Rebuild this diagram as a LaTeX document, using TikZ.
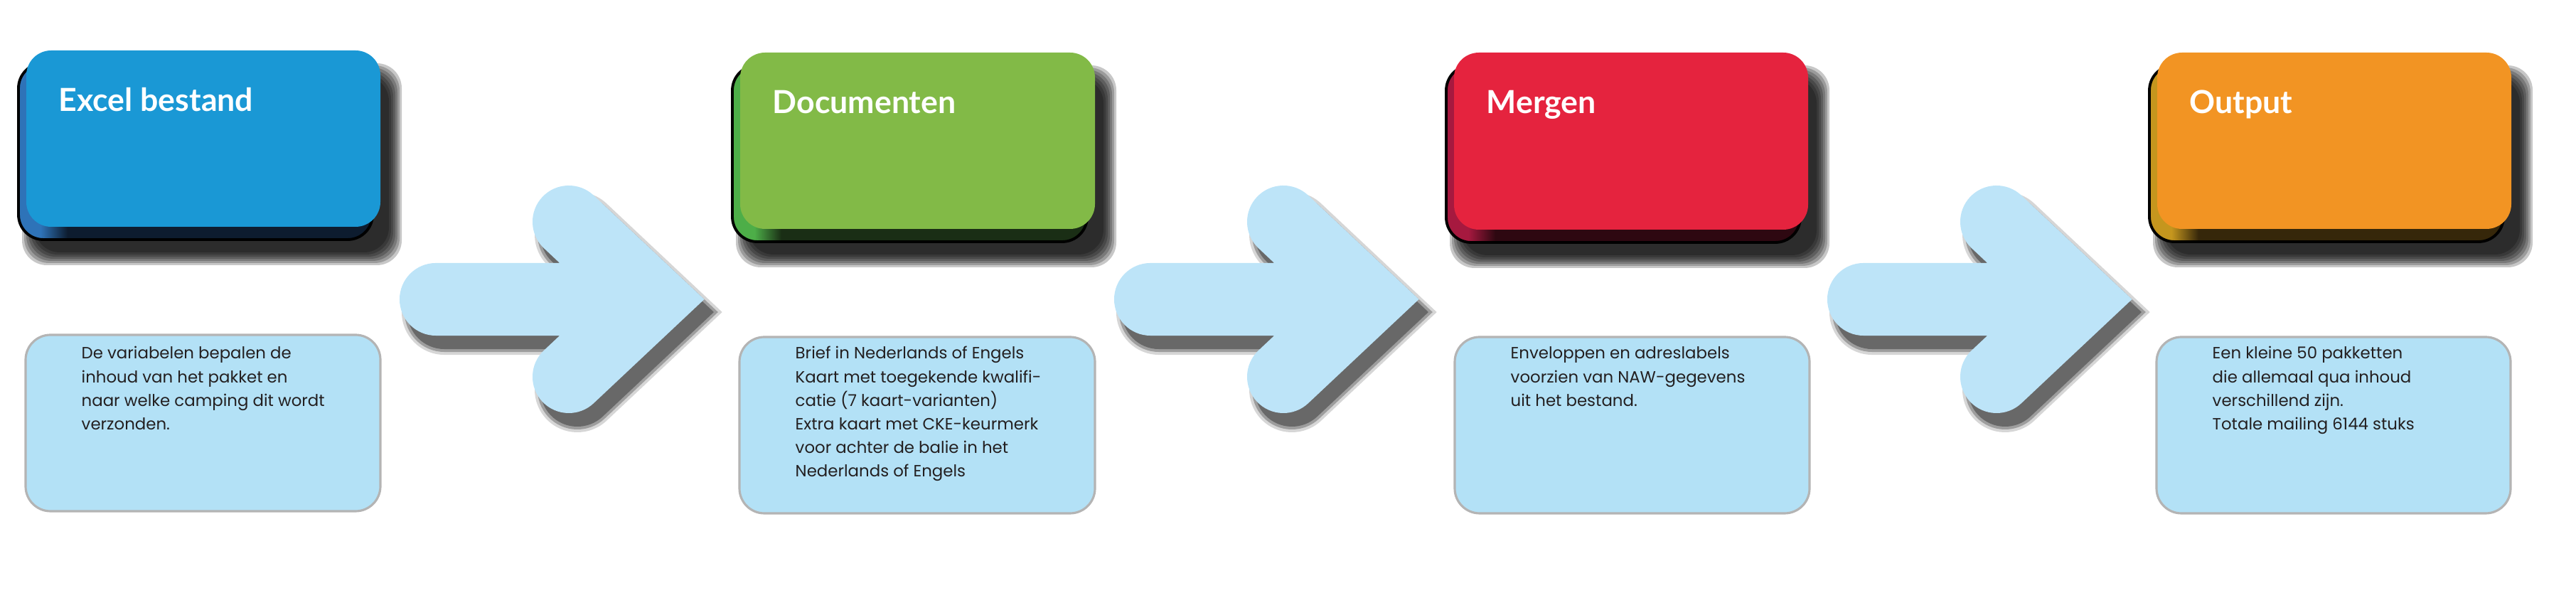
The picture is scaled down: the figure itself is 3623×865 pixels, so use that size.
\documentclass[tikz,border=0pt]{standalone}
\usepackage{fontspec}
\setmainfont{Lato}
\newfontfamily\uitlegfont{Poppins}
\usetikzlibrary{arrows.meta,positioning,backgrounds}

\definecolor{blauw}{HTML}{1A98D5}
\definecolor{blauwzij}{HTML}{2E73B8}
\definecolor{blauwbodem}{HTML}{0D1C2F}
\definecolor{groen}{HTML}{82BA47}
\definecolor{groenzij}{HTML}{4DAE48}
\definecolor{groenbodem}{HTML}{1A2E15}
\definecolor{rood}{HTML}{E5233E}
\definecolor{roodzij}{HTML}{A6193F}
\definecolor{roodbodem}{HTML}{2E0811}
\definecolor{oranje}{HTML}{F29423}
\definecolor{oranjezij}{HTML}{C5961E}
\definecolor{oranjebodem}{HTML}{36270A}
\definecolor{pijlblauw}{HTML}{BDE4F8}
\definecolor{vakblauw}{HTML}{B3E1F6}
\definecolor{randgrijs}{HTML}{B4B4B4}
\definecolor{tekstzwart}{HTML}{231F20}

\tikzset{
  kop/.style={anchor=base west, inner sep=0pt, text=white, font=\fontsize{12.7}{15}\selectfont\bfseries},
  uitleg/.style={anchor=base west, inner sep=0pt, text=tekstzwart, font=\uitlegfont\fontsize{6.5}{9.4}\selectfont},
  vak/.style={fill=vakblauw, draw=randgrijs, line width=0.9pt, rounded corners=0.35cm},
  pijl/.style={draw=pijlblauw, line width=1.02cm, line cap=round, line join=miter},
}

\begin{document}
\begin{tikzpicture}[x=0.01cm, y=-0.01cm]
  \useasboundingbox (0,0) rectangle (3623,865);

  % Pijlen tussen de stappen
  \foreach \dx in {0,1005,2008} {
    \begin{scope}[shift={(\dx,0)}]
      \begin{scope}[shift={(12,18)}]
        \foreach \lw/\op in {1.20cm/0.2, 1.12cm/0.35, 1.04cm/0.5}
          \draw[black!80, opacity=\op, line width=\lw, line cap=round, line join=miter]
            (613,421) -- (880,421) (800,312) -- (916,421) -- (800,530);
      \end{scope}
      \draw[pijl] (613,421) -- (880,421) (800,312) -- (916,421) -- (800,530);
    \end{scope}
  }

  % Stappen: schaduw, zijkant en bovenvlak
  \foreach \x/\y/\w/\h/\kleur/\zij/\bodem/\naam/\titel in {
      37/71/498/248/blauw/blauwzij/blauwbodem/excel/Excel bestand,
      1041/74/499/248/groen/groenzij/groenbodem/documenten/Documenten,
      2045/74/498/249/rood/roodzij/roodbodem/mergen/Mergen,
      3034/74/498/248/oranje/oranjezij/oranjebodem/output/Output} {
    \foreach \r in {18,15,12,9,6,3,0}
      \fill[black, opacity=0.22, rounded corners=0.35cm] (\x+12-\r,\y+36-\r) rectangle (\x+\w+12+\r,\y+\h+36+\r);
    \begin{scope}
      \clip[rounded corners=0.35cm] (\x-11,\y+18) rectangle ++(\w,\h);
      \fill[\bodem] (\x-11,\y+18) rectangle ++(\w,\h);
      \fill[\zij] (\x-13,\y) rectangle (\x+20,\y+\h+20);
      \shade[left color=\zij, right color=\bodem] (\x+20,\y) rectangle (\x+58,\y+\h+20);
    \end{scope}
    \draw[black, line width=1.1pt, rounded corners=0.35cm] (\x-11,\y+18) rectangle ++(\w,\h);
    \fill[\kleur, rounded corners=0.35cm] (\x,\y) rectangle ++(\w,\h);
    \node[kop] (\naam) at (\x+45,\y+86) {\titel};
  }

  % Toelichting onder elke stap
  \foreach \x/\y/\w/\tx/\naam/\tekst in {
      36/471/499/114/uitleg-excel/{De variabelen bepalen de\\inhoud van het pakket en\\naar welke camping dit wordt\\verzonden.},
      1040/474/500/1118/uitleg-documenten/{Brief in Nederlands of Engels\\Kaart met toegekende kwalifi-\\catie (7 kaart-varianten)\\Extra kaart met CKE-keurmerk\\voor achter de balie in het\\Nederlands of Engels},
      2046/474/499/2124/uitleg-mergen/{Enveloppen en adreslabels\\voorzien van NAW-gegevens\\uit het bestand.},
      3033/474/498/3111/uitleg-output/{Een kleine 50 pakketten\\die allemaal qua inhoud\\verschillend zijn.\\Totale mailing 6144 stuks}} {
    \draw[vak] (\x,\y) rectangle ++(\w,248);
    \node[uitleg] (\naam) at (\tx,505) {\begin{tabular}[t]{@{}l@{}}\tekst\end{tabular}};
  }
\end{tikzpicture}
\end{document}
